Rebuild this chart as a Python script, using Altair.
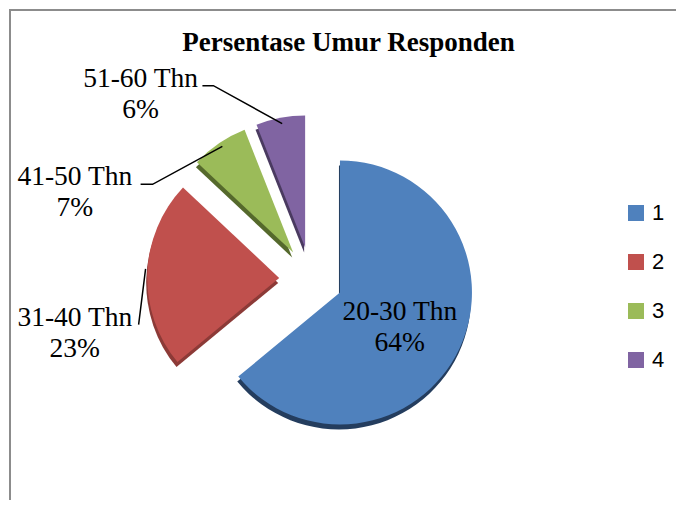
import math
import altair as alt
import pandas as pd

# ---- data ----
judul = "Persentase Umur Responden"
kategori = ["1", "2", "3", "4"]
kelompok_umur = ["20-30 Thn", "31-40 Thn", "41-50 Thn", "51-60 Thn"]
persen = [64, 23, 7, 6]

# ---- styles ----
warna = ["#4F81BD", "#C0504D", "#9BBB59", "#8064A2"]
warna_sisi = ["#243D5E", "#8C3A37", "#55692C", "#4A3A60"]

# ---- layout (pixels, relative to pie centre) ----
W, H = 668, 492
CX, CY = 303, 271
R = 132
EXPLODE = 32
label_x = [89, -237, -237, -171]
label_y = [33, 39, -102, -201]
LINE_GAP = 31
garis_id = ["2", "2", "3", "3", "3", "4", "4", "4"]
garis_urut = [0, 1, 0, 1, 2, 0, 1, 2]
garis_x = [-173, -166, -171, -159, -89, -109, -98, -29]
garis_y = [46, -10, -95, -95, -133, -194, -194, -156]

df = pd.DataFrame({
    "kategori": kategori,
    "umur": kelompok_umur,
    "persen": persen,
    "sisi": warna_sisi,
    "lx": label_x,
    "ly": label_y,
})
df_garis = pd.DataFrame({"g": garis_id, "o": garis_urut, "gx": garis_x, "gy": garis_y})

xs = alt.Scale(domain=[-CX, W - CX], nice=False, zero=False)
ys = alt.Scale(domain=[-CY, H - CY], reverse=True, nice=False, zero=False)
ts = alt.Scale(domain=[0, 100], range=[0, 2 * math.pi])

base = alt.Chart(df).transform_window(
    kum="sum(persen)", sort=[alt.SortField("kategori")], frame=[None, 0]
).transform_calculate(
    mulai="datum.kum - datum.persen",
    tengah="(datum.kum - datum.persen / 2) / 100 * 2 * PI",
    ex=f"{EXPLODE} * sin(datum.tengah)",
    ey=f"-{EXPLODE} * cos(datum.tengah)",
)

sisi = base.transform_calculate(
    sx="datum.ex - 1", sy="datum.ey + 5"
).mark_arc(radius=R).encode(
    x=alt.X("sx:Q", scale=xs, axis=None),
    y=alt.Y("sy:Q", scale=ys, axis=None),
    theta=alt.Theta("mulai:Q", scale=ts),
    theta2="kum:Q",
    fill=alt.Fill("sisi:N", scale=None),
)

irisan = base.mark_arc(radius=R).encode(
    x=alt.X("ex:Q", scale=xs, axis=None),
    y=alt.Y("ey:Q", scale=ys, axis=None),
    theta=alt.Theta("mulai:Q", scale=ts),
    theta2="kum:Q",
    color=alt.Color(
        "kategori:N",
        scale=alt.Scale(domain=kategori, range=warna),
        legend=alt.Legend(
            orient="none", legendX=616, legendY=193, title=None,
            symbolType="square", symbolSize=256, symbolStrokeWidth=0,
            symbolOpacity=1,
            labelFont="Liberation Sans", labelFontSize=22, labelColor="black",
            labelOffset=5, rowPadding=27, padding=0,
        ),
    ),
)

teks_font = dict(font="Liberation Serif", fontSize=27.5, color="black")

label_nama = base.mark_text(align="center", baseline="middle", **teks_font).encode(
    x=alt.X("lx:Q", scale=xs, axis=None),
    y=alt.Y("ly:Q", scale=ys, axis=None),
    text="umur:N",
)
label_persen = base.transform_calculate(
    ly2=f"datum.ly + {LINE_GAP}", pct="datum.persen + '%'"
).mark_text(align="center", baseline="middle", **teks_font).encode(
    x=alt.X("lx:Q", scale=xs, axis=None),
    y=alt.Y("ly2:Q", scale=ys, axis=None),
    text="pct:N",
)

garis = alt.Chart(df_garis).mark_line(color="black", strokeWidth=1.5).encode(
    x=alt.X("gx:Q", scale=xs, axis=None),
    y=alt.Y("gy:Q", scale=ys, axis=None),
    detail="g:N",
    order="o:Q",
)

judul_df = pd.DataFrame({"judul": [judul]})
teks_judul = alt.Chart(judul_df).mark_text(
    font="Liberation Serif", fontSize=27, fontWeight="bold", color="black",
    align="center", baseline="middle",
).encode(text="judul:N", x=alt.value(339.5), y=alt.value(34))

frame_df = pd.DataFrame({"a": [0]})
bingkai_kiri = alt.Chart(frame_df).mark_rule(color="#8C8C8C", strokeWidth=2).encode(
    x=alt.value(1), y=alt.value(0), y2=alt.value(H)
)
bingkai_atas = alt.Chart(frame_df).mark_rule(color="#8C8C8C", strokeWidth=2).encode(
    x=alt.value(0), x2=alt.value(W), y=alt.value(1)
)

chart = alt.layer(
    bingkai_kiri, bingkai_atas, sisi, irisan, garis, label_nama, label_persen, teks_judul
).properties(
    width=W, height=H, padding=0,
    autosize=alt.AutoSizeParams(type="fit", contains="padding"),
).configure_view(stroke=None)

chart.save("out.html", embed_options={"renderer": "svg", "actions": False})
